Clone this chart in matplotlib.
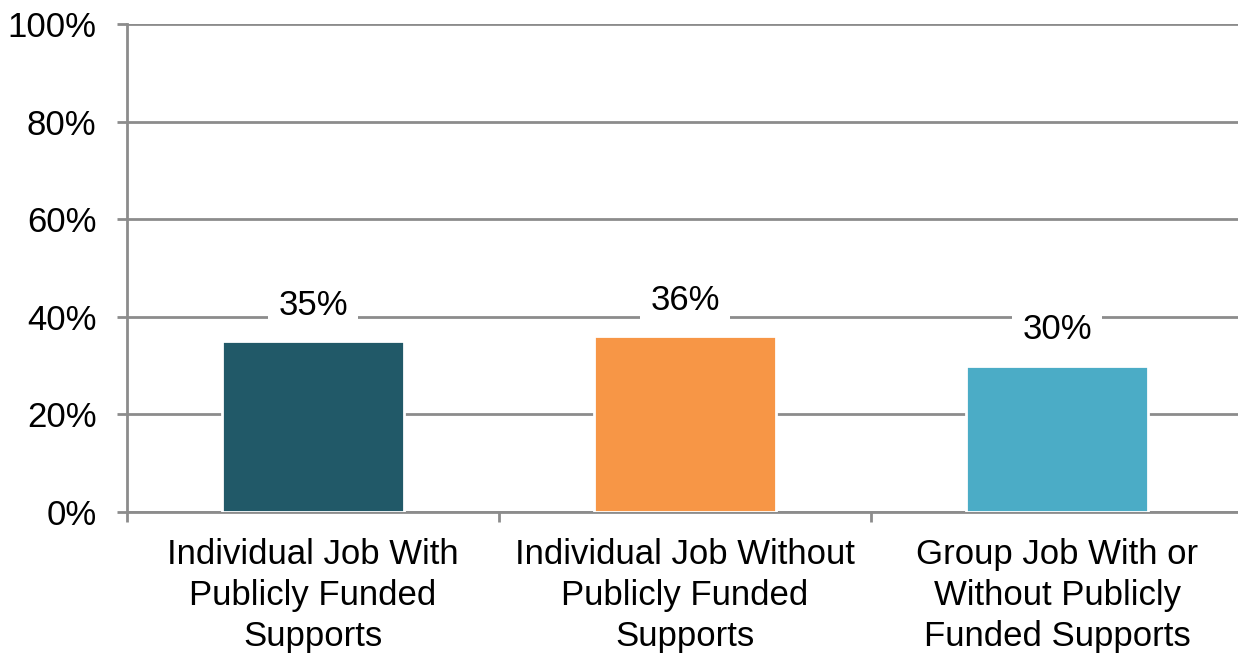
import matplotlib
matplotlib.use('Agg')
import matplotlib.pyplot as plt
import numpy as np
from matplotlib.ticker import FixedLocator, PercentFormatter

# values
categories = ['Individual Job With\nPublicly Funded\nSupports',
              'Individual Job Without\nPublicly Funded\nSupports',
              'Group Job With or\nWithout Publicly\nFunded Supports']
shares = [35, 36, 30]
bar_colors = ['#215968', '#F79646', '#4BACC6']
y_ticks = [0, 20, 40, 60, 80, 100]

plt.rcParams['font.family'] = ['Liberation Sans', 'DejaVu Sans']
grid_col = '#8c8c8c'

fig = plt.figure(figsize=(12.38, 6.58), dpi=100)
ax = fig.add_axes([127 / 1238, 146 / 658, 1116 / 1238, 488 / 658])

x = np.arange(len(categories))
bars = ax.bar(x, shares, width=0.49, color=bar_colors, edgecolor='white',
              linewidth=2, zorder=3)

ax.set_xlim(-0.5, 2.5)
ax.set_ylim(0, 100)
ax.set_yticks(y_ticks)
ax.yaxis.set_major_formatter(PercentFormatter(decimals=0))
ax.grid(axis='y', color=grid_col, linewidth=2, zorder=0)
ax.set_axisbelow(True)

# category labels sit between boundary ticks
ax.xaxis.set_major_locator(FixedLocator([-0.5, 0.5, 1.5, 2.5]))
ax.xaxis.set_major_formatter(plt.NullFormatter())
ax.set_xticks(x, minor=True)
ax.set_xticklabels(categories, minor=True, fontsize=25, linespacing=1.3)
ax.tick_params(axis='x', which='minor', length=0, pad=19)
ax.tick_params(axis='x', which='major', length=7, width=2, color=grid_col)
ax.tick_params(axis='y', length=7, width=2, color=grid_col, labelsize=25, pad=15)

for s in ['top', 'right']:
    ax.spines[s].set_visible(False)
for s in ['left', 'bottom']:
    ax.spines[s].set_color(grid_col)
    ax.spines[s].set_linewidth(2)

for rect, v in zip(bars, shares):
    ax.annotate(f'{v}%', xy=(rect.get_x() + rect.get_width() / 2, v),
                xytext=(0, 26), textcoords='offset points',
                ha='center', va='center', fontsize=25, zorder=4,
                bbox=dict(boxstyle='square,pad=0.3', fc='white', ec='none'))

fig.savefig('out.png', dpi=100)
